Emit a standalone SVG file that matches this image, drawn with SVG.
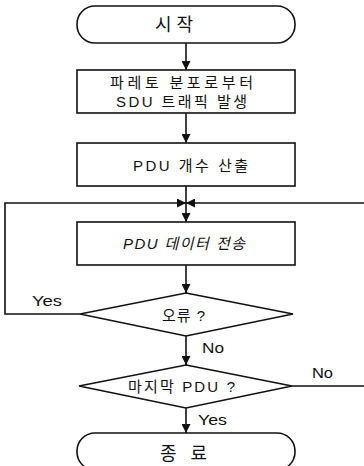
<svg xmlns="http://www.w3.org/2000/svg" width="364" height="466" viewBox="0 0 364 466">
<style>
.shape{fill:#fff;stroke:#111;stroke-width:1.6}
.conn{fill:none;stroke:#111;stroke-width:1.6}
.t{font-family:"Liberation Sans","Noto Sans CJK KR",sans-serif;font-size:15px;fill:#111;text-anchor:start}
.k{font-family:"Noto Sans CJK KR","Liberation Sans",sans-serif}
.big{font-size:18px}
.lbl{font-family:"Liberation Sans",sans-serif;font-size:15px;fill:#111}
</style>
<defs>
<marker id="ah" viewBox="0 0 10 10" refX="10" refY="5" markerWidth="10" markerHeight="9" markerUnits="userSpaceOnUse" orient="auto">
<path d="M0,0 L10,5 L0,10 z" fill="#111"/>
</marker>
</defs>
<rect width="364" height="466" fill="#fff"/>
<g id="connectors">
<path class="conn" d="M186,43 V70" marker-end="url(#ah)"/>
<path class="conn" d="M186,113 V143" marker-end="url(#ah)"/>
<path class="conn" d="M186,186 V222" marker-end="url(#ah)"/>
<path class="conn" d="M186,265 V293" marker-end="url(#ah)"/>
<path class="conn" d="M186,336 V365" marker-end="url(#ah)"/>
<path class="conn" d="M186,408 V433" marker-end="url(#ah)"/>
<path class="conn" d="M80,314 H5 V203 H186" marker-end="url(#ah)"/>
<path class="conn" d="M292,386 H368 V203 H186" marker-end="url(#ah)"/>
<text class="lbl" x="32" y="306" textLength="30" lengthAdjust="spacingAndGlyphs">Yes</text>
<text class="lbl" x="202" y="353" textLength="22" lengthAdjust="spacingAndGlyphs">No</text>
<text class="lbl" x="312" y="378" textLength="21" lengthAdjust="spacingAndGlyphs">No</text>
<text class="lbl" x="198" y="425" textLength="29" lengthAdjust="spacingAndGlyphs">Yes</text>
</g>
<g id="start">
<rect class="shape" x="77" y="6" width="218" height="37" rx="18" ry="18"/>
<text class="t k big" x="155" y="31" textLength="38" lengthAdjust="spacing">시 작</text>
</g>
<g id="generate">
<rect class="shape" x="77" y="70" width="218" height="43"/>
<text class="t k" x="110" y="88" textLength="143" lengthAdjust="spacing">파레토 분포로부터</text>
<text class="t" x="116" y="107" textLength="131" lengthAdjust="spacing">SDU 트래픽 발생</text>
</g>
<g id="count">
<rect class="shape" x="77" y="143" width="218" height="43"/>
<text class="t" x="133" y="171" textLength="115" lengthAdjust="spacing">PDU 개수 산출</text>
</g>
<g id="transmit">
<rect class="shape" x="77" y="222" width="218" height="43"/>
<text class="t" x="123" y="249" style="font-style:italic" textLength="122" lengthAdjust="spacing">PDU 데이터 전송</text>
</g>
<g id="error">
<polygon class="shape" points="186,293 293,314 186,336 80,314"/>
<text class="t" x="162" y="321" textLength="43" lengthAdjust="spacing">오류 ?</text>
</g>
<g id="last">
<polygon class="shape" points="186,365 292,386 186,408 79,386"/>
<text class="t" x="128" y="392" textLength="107" lengthAdjust="spacing">마지막 PDU ?</text>
</g>
<g id="end">
<rect class="shape" x="77" y="433" width="218" height="37" rx="18" ry="18"/>
<text class="t k big" x="160" y="460" textLength="47" lengthAdjust="spacing">종 료</text>
</g>
</svg>
